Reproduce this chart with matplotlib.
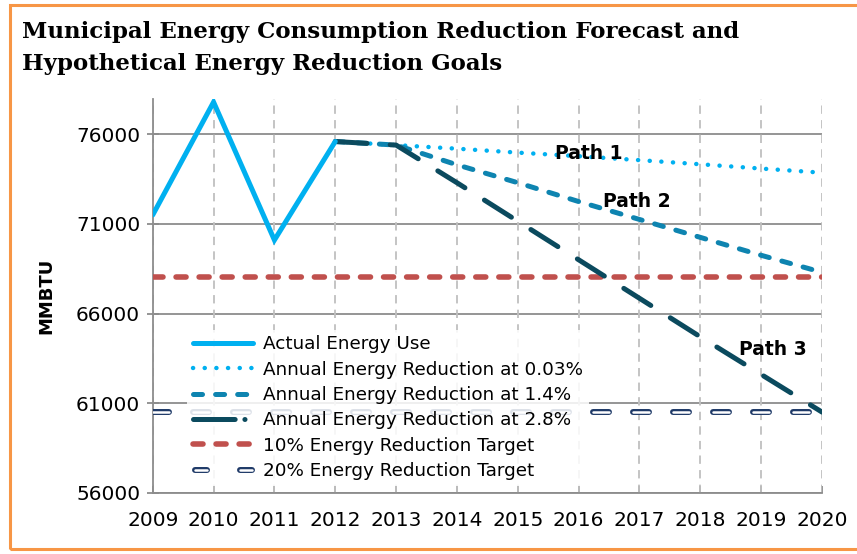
import matplotlib
matplotlib.use("Agg")
import matplotlib.pyplot as plt
from matplotlib.lines import Line2D
from matplotlib.patches import Rectangle
from matplotlib.legend_handler import HandlerBase

plt.rcParams['lines.scale_dashes'] = False

# ---- data ----
years_actual = [2009, 2010, 2011, 2012]
actual_use = [71500, 77800, 70100, 75600]

years_forecast = [2012, 2013, 2014, 2015, 2016, 2017, 2018, 2019, 2020]
path1 = [75600, 75400, 75200, 74980, 74780, 74560, 74330, 74090, 73860]
path2 = [75600, 75400, 74300, 73300, 72250, 71250, 70250, 69250, 68300]
path3 = [75600, 75400, 73300, 71150, 69000, 66850, 64700, 62600, 60500]

target_years = [2009, 2020]
target10 = [68040, 68040]
target20 = [60480, 60480]

series_labels = ["Actual Energy Use",
                 "Annual Energy Reduction at 0.03%",
                 "Annual Energy Reduction at 1.4%",
                 "Annual Energy Reduction at 2.8%",
                 "10% Energy Reduction Target",
                 "20% Energy Reduction Target"]
path_labels = ["Path 1", "Path 2", "Path 3"]
path_label_pos = [(2016.16, 74950), (2016.96, 72280), (2019.2, 64020)]
y_ticks = [56000, 61000, 66000, 71000, 76000]
x_ticks = list(range(2009, 2021))

title = "Municipal Energy Consumption Reduction Forecast and\nHypothetical Energy Reduction Goals"

# ---- colours ----
c_actual = "#00B0F0"
c_p2 = "#0E84B0"
c_p3 = "#0B4A5E"
c_red = "#C0504D"
c_navy = "#1F3A68"
c_grid = "#8C8C8C"
c_vgrid = "#BFBFBF"

sans = ["DejaVu Sans"]


class HollowDashHandler(HandlerBase):
    """Two short hollow (outlined) dashes, like the 20% target line."""
    def create_artists(self, legend, orig_handle, xdescent, ydescent,
                       width, height, fontsize, trans):
        y = height / 2 - ydescent
        arts = []
        for f0, f1 in [(0.04, 0.24), (0.78, 0.98)]:
            x0 = -xdescent + f0 * width
            x1 = -xdescent + f1 * width
            outer = Line2D([x0, x1], [y, y], color=c_navy, lw=4.3,
                           solid_capstyle='round', transform=trans)
            inner = Line2D([x0, x1], [y, y], color='white', lw=1.8,
                           solid_capstyle='round', transform=trans)
            arts += [outer, inner]
        return arts


fig = plt.figure(figsize=(8.57, 5.54), dpi=100)
ax = fig.add_axes([0.1782, 0.1106, 0.9592 - 0.1782, 0.8222 - 0.1106])

ax.set_xlim(2009, 2020)
ax.set_ylim(56000, 78000)

# grid
for y in y_ticks:
    ax.axhline(y, color=c_grid, lw=1.3, zorder=1)
for x in x_ticks:
    ax.axvline(x, color=c_vgrid, lw=1.3, dashes=(6, 4.5), zorder=2.5)

# lines
ax.plot(target_years, target10, color=c_red, lw=4, dashes=(7.2, 9.4),
        dash_capstyle='round', zorder=3)
t20, = ax.plot(target_years, target20, color=c_navy, lw=4.3, dashes=(11.5, 17.3),
               dash_capstyle='round', zorder=3)
ax.plot(target_years, target20, color="white", lw=1.8, dashes=(11.5, 17.3),
        dash_capstyle='round', zorder=3.1)
ax.plot(years_forecast, path1, color=c_actual, lw=3.2, dashes=(0.1, 8.3),
        dash_capstyle='round', zorder=4)
ax.plot(years_forecast, path2, color=c_p2, lw=3.6, dashes=(6.5, 9.4),
        dash_capstyle='round', zorder=4)
ax.plot(years_forecast, path3, color=c_p3, lw=3.6, dashes=(23, 16.6),
        dash_capstyle='round', zorder=5)
ax.plot(years_actual, actual_use, color=c_actual, lw=3.6, solid_capstyle='round',
        solid_joinstyle='miter', zorder=6)

for lab, (px, py) in zip(path_labels, path_label_pos):
    ax.text(px, py, lab, fontsize=13.5, fontweight='bold', family=sans,
            ha='center', va='center', zorder=7)

# axes styling
for s in ['top', 'right']:
    ax.spines[s].set_visible(False)
for s in ['left', 'bottom']:
    ax.spines[s].set_color(c_grid)
    ax.spines[s].set_linewidth(1.3)
ax.set_yticks(y_ticks)
ax.set_yticklabels([str(v) for v in y_ticks])
ax.set_xticks(x_ticks)
ax.set_xticklabels([str(v) for v in x_ticks])
ax.tick_params(axis='y', direction='inout', length=8, width=1.3, color=c_grid,
               labelsize=14.5, pad=5)
ax.tick_params(axis='x', direction='in', length=5, width=1.3, color=c_grid,
               labelsize=14.5, pad=13)
for lbl in ax.get_xticklabels() + ax.get_yticklabels():
    lbl.set_family(sans)
ax.set_ylabel("MMBTU", fontsize=13, fontweight='bold', family=sans, labelpad=15)

# legend handles
h_actual = Line2D([], [], color=c_actual, lw=3.6, solid_capstyle='round')
h_p1 = Line2D([], [], color=c_actual, lw=3.2, dashes=(0.1, 8.3), dash_capstyle='round')
h_p2 = Line2D([], [], color=c_p2, lw=3.6, dashes=(6.5, 9.4), dash_capstyle='round')
h_p3 = Line2D([], [], color=c_p3, lw=3.6, dashes=(30, 7, 0.1, 7), dash_capstyle='round')
h_red = Line2D([], [], color=c_red, lw=4, dashes=(7.2, 9.4), dash_capstyle='round')

leg = ax.legend([h_actual, h_p1, h_p2, h_p3, h_red, t20], series_labels,
                handler_map={t20: HollowDashHandler()},
                loc='lower left', bbox_to_anchor=(0.038, -0.005),
                prop={'family': sans, 'size': 13.2}, frameon=True,
                handlelength=3.3, labelspacing=0.4, handletextpad=0.55,
                borderpad=0.3)
leg.get_frame().set_facecolor('white')
leg.get_frame().set_alpha(0.85)
leg.get_frame().set_edgecolor('none')
leg.set_zorder(8)

fig.text(22 / 857, 1 - 21 / 554, title, fontsize=16.5, fontweight='bold',
         family=["DejaVu Serif"], ha='left', va='top', linespacing=1.6)

# orange border
fig.add_artist(Rectangle((10 / 857, 5 / 554), 1.0, 1 - 10 / 554,
                         transform=fig.transFigure, fill=False,
                         edgecolor="#F79646", lw=2.2, clip_on=False))

fig.savefig("out.png", dpi=100)
